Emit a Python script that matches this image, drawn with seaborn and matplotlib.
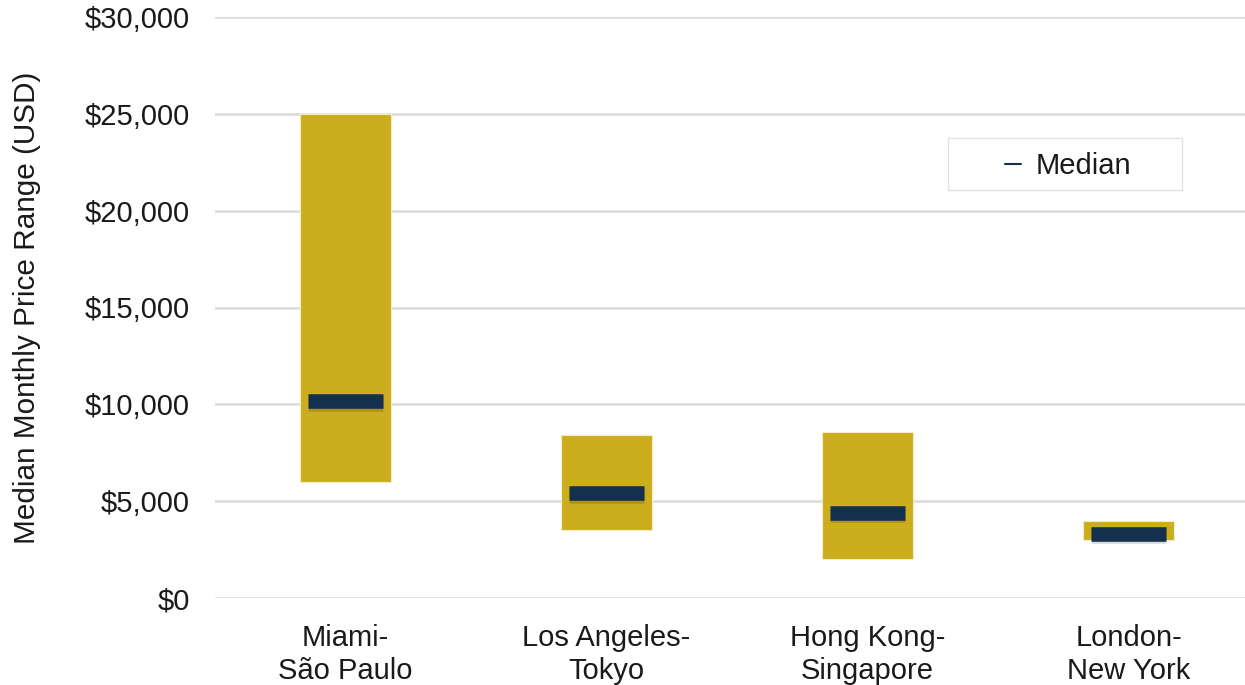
import matplotlib
matplotlib.use("Agg")
import matplotlib.pyplot as plt
import matplotlib.patheffects as pe
from matplotlib.lines import Line2D
from matplotlib.patches import Rectangle
import numpy as np
import pandas as pd
import seaborn as sns

# data
routes = ["Miami-\nSão Paulo", "Los Angeles-\nTokyo", "Hong Kong-\nSingapore", "London-\nNew York"]
price_low = [6000, 3500, 2000, 3000]
price_high = [25000, 8400, 8550, 4000]
price_median = [10150, 5400, 4400, 3300]

GOLD = "#CCAD1D"
NAVY = "#14304F"

sns.set_theme(style="white")
plt.rcParams["font.family"] = ["Liberation Sans", "DejaVu Sans"]

df = pd.DataFrame({
    "route": routes,
    "low": price_low,
    "high": price_high,
    "median": price_median,
})
df["span"] = df["high"] - df["low"]

fig = plt.figure(figsize=(12.45, 6.85), dpi=100)
ax = fig.add_axes([215 / 1245, 1 - 598 / 685, 1044 / 1245, (598 - 17) / 685])

# floating range bars
sns.barplot(data=df, x="route", y="span", bottom=df["low"].values, color=GOLD,
            width=0.35, saturation=1, errorbar=None, ax=ax, zorder=2,
            edgecolor="#f3eccb", linewidth=0.8)

# median markers
xs = np.arange(len(df))
ax.hlines(df["median"], xs - 0.142, xs + 0.142, colors=NAVY, linewidth=10.5,
          zorder=3, capstyle="butt",
          path_effects=[pe.SimpleLineShadow(offset=(0, -1.5), shadow_color="black", alpha=0.15),
                        pe.Normal()])

ax.set_xlim(-0.5, 3.5)
ax.set_ylim(0, 30000)
ax.set_yticks(np.arange(0, 30001, 5000))
ax.set_yticklabels([f"${v:,.0f}" for v in np.arange(0, 30001, 5000)])
ax.yaxis.grid(True, color="#dadada", linewidth=1.8, zorder=0)
ax.set_axisbelow(True)
for s in ax.spines.values():
    s.set_visible(False)
ax.tick_params(axis="y", length=0, pad=18, labelsize=21, labelcolor="#1a1a1a")
ax.tick_params(axis="x", length=0, pad=19, labelsize=21, labelcolor="#1a1a1a")
for lbl in ax.get_xticklabels():
    lbl.set_linespacing(1.2)
ax.set_xlabel("")
ax.set_ylabel("Median Monthly Price Range (USD)", fontsize=21.4, color="#1a1a1a")
ax.yaxis.set_label_coords(-174 / 1044, 0.5)

# legend box
fig.patches.append(Rectangle((948 / 1245, 1 - 190 / 685), 234 / 1245, 52 / 685,
                             transform=fig.transFigure, facecolor="white",
                             edgecolor="#e2e2e2", linewidth=1.0, zorder=5))
handle = Line2D([], [], color=NAVY, linewidth=1.5)
leg = fig.legend([handle], ["Median"], loc="center",
                 bbox_to_anchor=(1068 / 1245, 1 - 166 / 685), frameon=False,
                 fontsize=21, handlelength=0.55, handletextpad=0.5)
for t in leg.get_texts():
    t.set_color("#1a1a1a")
leg.set_zorder(6)

fig.savefig("out.png", dpi=100)
